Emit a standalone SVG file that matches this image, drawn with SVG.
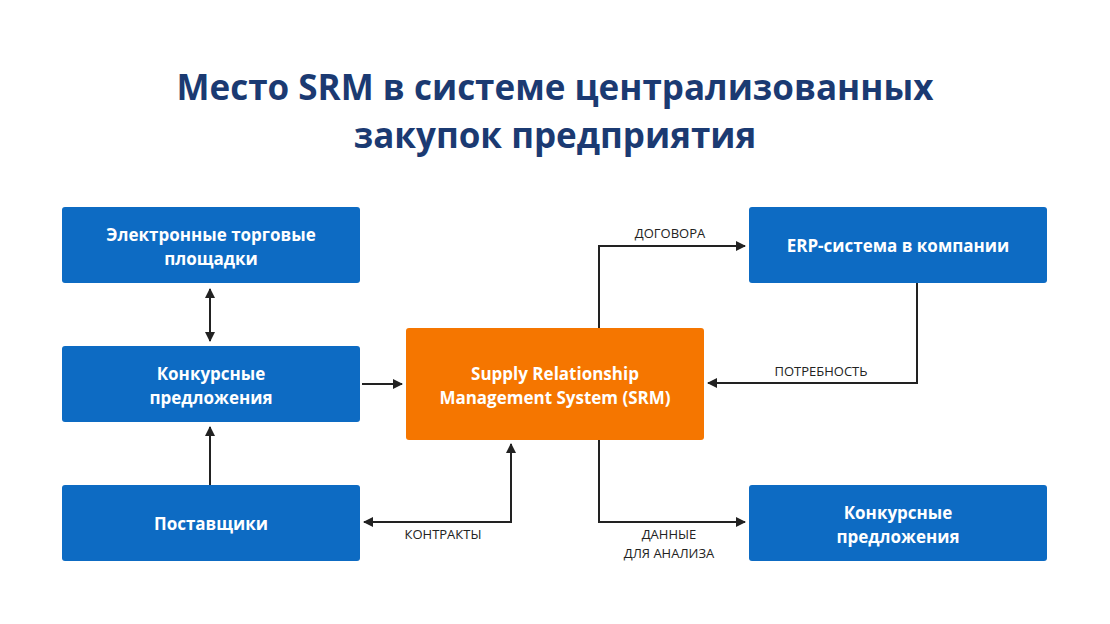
<svg xmlns="http://www.w3.org/2000/svg" width="1110" height="624" viewBox="0 0 1110 624">
<style>
.t{font-family:"Open Sans","Noto Sans",sans-serif;font-weight:700;font-size:35px;fill:#1b3a72;text-anchor:middle}
.b{fill:#0d6bc3}
.o{fill:#f57600}
.n{font-family:"Open Sans","Noto Sans",sans-serif;font-weight:700;font-size:17px;fill:#fff;text-anchor:middle}
.l{font-family:"Open Sans","Noto Sans",sans-serif;font-size:13px;fill:#222;text-anchor:middle}
.c{fill:none;stroke:#222;stroke-width:2}
</style>
<defs>
<marker id="a" viewBox="0 0 10 10" refX="9" refY="5" markerWidth="5" markerHeight="5" orient="auto-start-reverse"><path d="M0,0L10,5L0,10z" fill="#222"/></marker>
</defs>
<rect width="1110" height="624" fill="#fff"/>
<text class="t" x="555" y="100">Место SRM в системе централизованных</text>
<text class="t" x="555" y="148">закупок предприятия</text>
<g id="etp"><rect class="b" x="62" y="207" width="298" height="76" rx="3"/><text class="n" x="211" y="241">Электронные торговые</text><text class="n" x="211" y="265">площадки</text></g>
<g id="kp1"><rect class="b" x="62" y="346" width="298" height="76" rx="3"/><text class="n" x="211" y="380">Конкурсные</text><text class="n" x="211" y="404">предложения</text></g>
<g id="post"><rect class="b" x="62" y="485" width="298" height="76" rx="3"/><text class="n" x="211" y="530">Поставщики</text></g>
<g id="srm"><rect class="o" x="406" y="328" width="298" height="112" rx="3"/><text class="n" x="555" y="380">Supply Relationship</text><text class="n" x="555" y="404">Management System (SRM)</text></g>
<g id="erp"><rect class="b" x="749" y="207" width="298" height="76" rx="3"/><text class="n" x="898" y="252">ERP-система в компании</text></g>
<g id="kp2"><rect class="b" x="749" y="485" width="298" height="76" rx="3"/><text class="n" x="898" y="519">Конкурсные</text><text class="n" x="898" y="543">предложения</text></g>
<g id="connectors">
<path class="c" d="M210,289V341" marker-start="url(#a)" marker-end="url(#a)"/>
<path class="c" d="M210,485V427" marker-end="url(#a)"/>
<path class="c" d="M362,384H402" marker-end="url(#a)"/>
<path class="c" d="M511,444V522H364" marker-start="url(#a)" marker-end="url(#a)"/>
<path class="c" d="M599,328V246H745" marker-end="url(#a)"/>
<path class="c" d="M917,283V383H708" marker-end="url(#a)"/>
<path class="c" d="M599,440V522H745" marker-end="url(#a)"/>
<text class="l" x="443" y="539">КОНТРАКТЫ</text>
<text class="l" x="670" y="238">ДОГОВОРА</text>
<text class="l" x="821" y="376">ПОТРЕБНОСТЬ</text>
<text class="l" x="669" y="539">ДАННЫЕ</text>
<text class="l" x="669" y="558">ДЛЯ АНАЛИЗА</text>
</g>
</svg>
